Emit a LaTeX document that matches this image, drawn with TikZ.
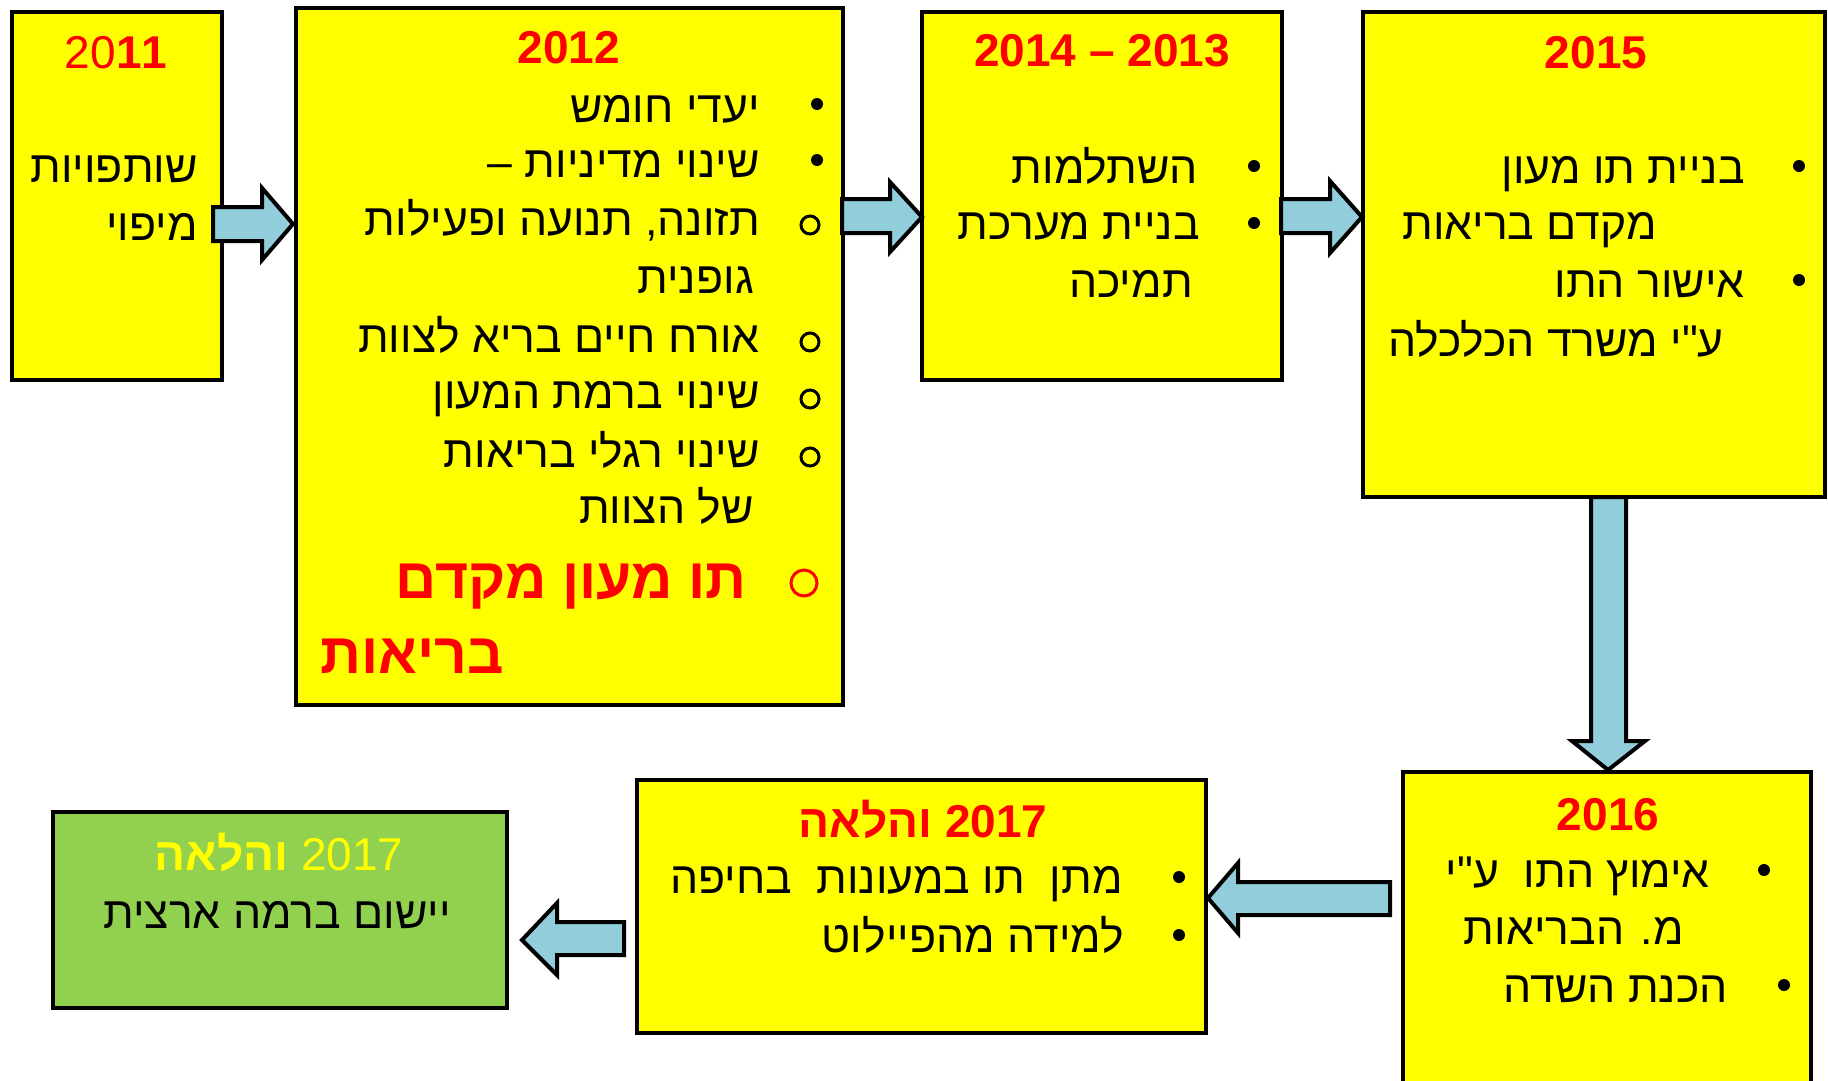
\documentclass[tikz,border=0pt]{standalone}
\usepackage{fontspec}
\setmainfont{Liberation Sans}
\newfontfamily\heb[Script=Hebrew]{Liberation Sans}
\TeXXeTstate=1
\definecolor{arrowblue}{HTML}{92CDDC}
\definecolor{lgreen}{HTML}{92D050}
\definecolor{pyellow}{HTML}{FFFF00}
\definecolor{pred}{HTML}{FF0000}
\tikzset{
  box/.style={draw=black, line width=3.5pt, fill=pyellow, inner sep=0pt},
  gbox/.style={draw=black, line width=3.5pt, fill=lgreen, inner sep=0pt},
  txt/.style={font=\heb\fontsize{44.5}{54}\selectfont, inner sep=0pt, anchor=base east},
  ctxt/.style={font=\heb\fontsize{44.5}{54}\selectfont, inner sep=0pt, anchor=base},
  ttl/.style={font=\heb\bfseries\fontsize{46}{55}\selectfont, text=pred, inner sep=0pt, anchor=base},
  big/.style={font=\heb\bfseries\fontsize{57}{70}\selectfont, text=pred, inner sep=0pt, anchor=base east},
  barrow/.style={draw=black, line width=4pt, fill=arrowblue, line join=miter},
  dotb/.style={circle, fill=black, minimum size=12pt, inner sep=0pt},
  ringb/.style={circle, draw=black, line width=3pt, minimum size=18pt, inner sep=0pt},
  redring/.style={circle, draw=pred, line width=3pt, minimum size=26pt, inner sep=0pt}
}
\begin{document}
\begin{tikzpicture}[x=1pt,y=-1pt]
\path[use as bounding box, fill=white] (0,0) rectangle (1828,1080);
\clip (0,0) rectangle (1828,1080);
% boxes
\node[box, minimum width=210pt, minimum height=368pt] (b2011) at (117,196) {};
\node[box, minimum width=547pt, minimum height=697pt] (b2012) at (569.5,356.5) {};
\node[box, minimum width=360pt, minimum height=368pt] (b2013) at (1102,196) {};
\node[box, minimum width=462pt, minimum height=485pt] (b2015) at (1594,254.5) {};
\node[box, minimum width=408pt, minimum height=328pt] (b2016) at (1607,936) {};
\node[box, minimum width=569pt, minimum height=253pt] (b2017) at (921.5,906.5) {};
\node[gbox, minimum width=454pt, minimum height=196pt] (bgreen) at (280,910) {};
% block arrows
\draw[barrow] (213,207) -- (262,207) -- (262,188) -- (293,224) -- (262,260) -- (262,241) -- (213,241) -- cycle;
\draw[barrow] (842,199) -- (890,199) -- (890,182) -- (922,217) -- (890,252) -- (890,233) -- (842,233) -- cycle;
\draw[barrow] (1281,199) -- (1330,199) -- (1330,181) -- (1362,217) -- (1330,253) -- (1330,233) -- (1281,233) -- cycle;
\draw[barrow] (1591,497) -- (1591,741) -- (1572,741) -- (1608,770) -- (1645,741) -- (1626,741) -- (1626,497) -- cycle;
\draw[barrow] (1390,882) -- (1238,882) -- (1238,863) -- (1208,898) -- (1238,933) -- (1238,915) -- (1390,915) -- cycle;
\draw[barrow] (624,922) -- (557,922) -- (557,903) -- (522,940) -- (557,975) -- (557,955) -- (624,955) -- cycle;
% 2011
\node[ttl, font=\heb\fontsize{46}{55}\selectfont] (y2011) at (116,68) {20\textbf{11}};
\node[txt] (t11a) at (198,182) {\beginR שותפויות\endR};
\node[txt] (t11b) at (198,240) {\beginR מיפוי\endR};
% 2012
\node[ttl] (y2012) at (569,63) {2012};
\node[dotb] (d12a) at (817,104) {};
\node[txt] (t12a) at (760,122) {\beginR יעדי חומש\endR};
\node[dotb] (d12b) at (817,160) {};
\node[txt] (t12b) at (760,177) {\beginR שינוי מדיניות –\endR};
\node[ringb] (r12c) at (810,225) {};
\node[txt] (t12c) at (760,235) {\beginR תזונה, תנועה ופעילות\endR};
\node[txt] (t12d) at (754,293) {\beginR גופנית\endR};
\node[ringb] (r12e) at (810,342) {};
\node[txt] (t12e) at (760,352) {\beginR אורח חיים בריא לצוות\endR};
\node[ringb] (r12f) at (810,399) {};
\node[txt] (t12f) at (760,408) {\beginR שינוי ברמת המעון\endR};
\node[ringb] (r12g) at (810,457) {};
\node[txt] (t12g) at (760,467) {\beginR שינוי רגלי בריאות\endR};
\node[txt] (t12h) at (754,523) {\beginR של הצוות\endR};
\node[redring] (r12i) at (804,583) {};
\node[big] (t12i) at (747,598) {\beginR תו מעון מקדם\endR};
\node[big] (t12j) at (504,673) {\beginR בריאות\endR};
% 2013-2014
\node[ttl] (y2013) at (1102,66) {2014 – 2013};
\node[dotb] (d13a) at (1254,166) {};
\node[txt] (t13a) at (1198,183) {\beginR השתלמות\endR};
\node[dotb] (d13b) at (1254,223) {};
\node[txt] (t13b) at (1200,239) {\beginR בניית מערכת\endR};
\node[txt] (t13c) at (1193,297) {\beginR תמיכה\endR};
% 2015
\node[ttl] (y2015) at (1596,68) {2015};
\node[dotb] (d15a) at (1799,166) {};
\node[txt] (t15a) at (1745,183) {\beginR בניית תו מעון\endR};
\node[txt] (t15b) at (1657,239) {\beginR מקדם בריאות\endR};
\node[dotb] (d15c) at (1799,280) {};
\node[txt] (t15c) at (1745,297) {\beginR אישור התו\endR};
\node[txt] (t15d) at (1724,356) {\beginR ע"י משרד הכלכלה\endR};
% 2016
\node[ttl] (y2016) at (1608,830) {2016};
\node[dotb] (d16a) at (1764,870) {};
\node[txt] (t16a) at (1710,887) {\beginR אימוץ התו\ \ ע"י\endR};
\node[txt] (t16b) at (1684,944) {\beginR מ. הבריאות\endR};
\node[dotb] (d16c) at (1784,985) {};
\node[txt] (t16c) at (1728,1002) {\beginR הכנת השדה\endR};
% 2017
\node[ttl] (y2017) at (923,837) {\beginR 2017 והלאה\endR};
\node[dotb] (d17a) at (1179,877) {};
\node[txt] (t17a) at (1123,893) {\beginR מתן\ \ תו במעונות\ \ בחיפה\endR};
\node[dotb] (d17b) at (1179,935) {};
\node[txt] (t17b) at (1124,952) {\beginR למידה מהפיילוט\endR};
% green
\node[ttl, text=pyellow, font=\heb\fontsize{46}{55}\selectfont] (ygreen) at (279,870) {\beginR 2017 \textbf{והלאה}\endR};
\node[ctxt] (tgreen) at (277,928) {\beginR יישום ברמה ארצית\endR};
\end{tikzpicture}
\end{document}
